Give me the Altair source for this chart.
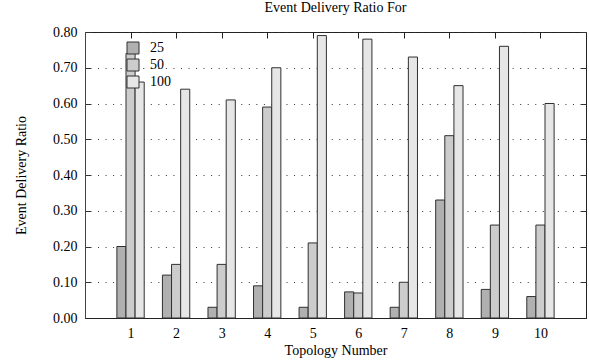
import altair as alt
import pandas as pd

topologies = [1, 2, 3, 4, 5, 6, 7, 8, 9, 10]
series_names = ["25", "50", "100"]
vals_25 = [0.20, 0.12, 0.03, 0.09, 0.03, 0.073, 0.03, 0.33, 0.08, 0.06]
vals_50 = [0.74, 0.15, 0.15, 0.59, 0.21, 0.07, 0.10, 0.51, 0.26, 0.26]
vals_100 = [0.66, 0.64, 0.61, 0.70, 0.79, 0.78, 0.73, 0.65, 0.76, 0.60]
colors = ["#b0b0b0", "#cccccc", "#e6e6e6"]
y_ticks = [0.0, 0.1, 0.2, 0.3, 0.4, 0.5, 0.6, 0.7, 0.8]

rows = []
for idx, (name, vals) in enumerate(zip(series_names, [vals_25, vals_50, vals_100])):
    for t, v in zip(topologies, vals):
        rows.append({"topo": t, "series": name, "idx": idx, "value": v})
df = pd.DataFrame(rows)

W, H = 501, 286
FONT = "Liberation Serif"

# dotted grid with short solid inward ticks at both ends
n_dots = 64
gap = (W - 12 - n_dots) / (n_dots + 1)
ydash = [6]
for _ in range(n_dots):
    ydash += [gap, 1]
ydash += [gap, 6]

xscale = alt.Scale(domain=[0, 11], nice=False, zero=False)
yscale = alt.Scale(domain=[0, 0.8], nice=False)

base = alt.Chart(df).transform_calculate(
    x0="datum.topo - 0.3 + datum.idx * 0.2",
    x1="datum.topo - 0.1 + datum.idx * 0.2",
)

bars = base.mark_bar(stroke="#303030", strokeWidth=1).encode(
    x=alt.X(
        "x0:Q",
        scale=xscale,
        axis=alt.Axis(
            values=topologies,
            format="d",
            title="Topology Number",
            ticks=False,
            grid=False,
            domainColor="#222",
            labelPadding=8,
            titlePadding=3,
        ),
    ),
    x2="x1:Q",
    y=alt.Y(
        "value:Q",
        scale=yscale,
        axis=alt.Axis(
            values=y_ticks,
            format=".2f",
            title="Event Delivery Ratio",
            ticks=False,
            grid=True,
            gridDash=ydash,
            gridColor="#333",
            gridOpacity=1,
            domainColor="#444",
            labelPadding=8,
            titlePadding=24,
        ),
    ),
    y2=alt.datum(0),
    fill=alt.Fill(
        "series:N",
        scale=alt.Scale(domain=series_names, range=colors),
        legend=alt.Legend(
            title=None,
            orient="none",
            legendX=41,
            legendY=9,
            symbolType="square",
            symbolSize=144,
            symbolStrokeColor="#303030",
            symbolStrokeWidth=1,
            symbolOpacity=1,
            labelFontSize=14,
            labelFont=FONT,
            labelColor="#000",
            labelOffset=10,
            rowPadding=1,
            padding=0,
        ),
    ),
    order=alt.Order("idx:Q"),
)

# invisible layer carrying a top axis shifted inside the plot: short inward ticks
top_ticks = base.mark_point(opacity=0).encode(
    x=alt.X(
        "topo:Q",
        scale=xscale,
        axis=alt.Axis(
            orient="top",
            values=topologies,
            labels=False,
            ticks=True,
            tickSize=6,
            tickColor="#222",
            tickWidth=1,
            offset=-6,
            domain=False,
            title=None,
            grid=False,
        ),
    ),
)

chart = (
    alt.layer(bars, top_ticks)
    .resolve_axis(x="independent")
    .properties(
        width=W,
        height=H,
        background="white",
        title=alt.TitleParams(
            "Event Delivery Ratio For",
            font=FONT,
            fontSize=14,
            fontWeight="normal",
            color="#000",
            anchor="middle",
            offset=10,
        ),
        autosize=alt.AutoSizeParams(type="none"),
        padding={"left": 85, "top": 32, "right": 3, "bottom": 43},
    )
    .configure_axis(
        labelFont=FONT,
        labelFontSize=14,
        labelColor="#000",
        titleFont=FONT,
        titleFontSize=14,
        titleFontWeight="normal",
        titleColor="#000",
    )
    .configure_view(stroke="#222", strokeWidth=1)
)

chart.save("out.html", embed_options={"renderer": "svg", "actions": False})
